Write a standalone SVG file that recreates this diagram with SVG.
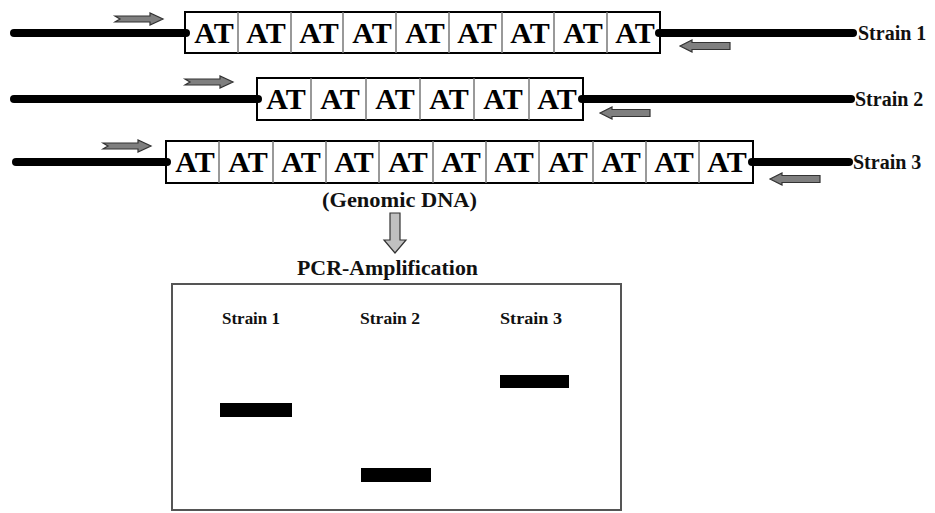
<svg xmlns="http://www.w3.org/2000/svg" xmlns:xlink="http://www.w3.org/1999/xlink" width="935" height="513" viewBox="0 0 935 513">
<style>
.dna{stroke:#000;stroke-width:8;stroke-linecap:round;fill:none}
.box{fill:#fff;stroke:#000;stroke-width:2}
.div{stroke:#777;stroke-width:1.5}
text{font-family:"Liberation Serif","Times New Roman","DejaVu Serif",serif;font-weight:700}
.at{font-size:30px;fill:#000;text-anchor:middle}
.lbl{font-size:20px;fill:#111}
.gl{font-size:16px;fill:#111}
.band{fill:#000}
.primer{fill:#7f7f7f;stroke:#333;stroke-width:1.2}
</style>
<defs>
<path id="fwd" class="primer" d="M0,-3 L35,-3 L35,-6 L48,0 L35,6 L35,3 L0,3 L5,0 Z"/>
<path id="rev" class="primer" d="M0,0 L12,-6 L12,-3.5 L50,-3.5 L50,3.5 L12,3.5 L12,6 Z"/>
</defs>
<rect width="935" height="513" fill="#fff"/>
<g id="connectors">
<line class="dna" x1="14" y1="33" x2="186" y2="33"/>
<line class="dna" x1="659" y1="33" x2="853" y2="33"/>
<line class="dna" x1="14" y1="99" x2="258" y2="99"/>
<line class="dna" x1="582" y1="99" x2="851" y2="99"/>
<line class="dna" x1="16" y1="162" x2="167" y2="162"/>
<line class="dna" x1="752" y1="162" x2="849" y2="162"/>
</g>
<g id="strain1">
<rect class="box" x="185" y="12" width="475" height="41"/>
<g class="div">
<line x1="238" y1="12" x2="238" y2="53"/><line x1="291" y1="12" x2="291" y2="53"/><line x1="343" y1="12" x2="343" y2="53"/><line x1="396" y1="12" x2="396" y2="53"/><line x1="449" y1="12" x2="449" y2="53"/><line x1="502" y1="12" x2="502" y2="53"/><line x1="554" y1="12" x2="554" y2="53"/><line x1="607" y1="12" x2="607" y2="53"/>
</g>
<g class="at">
<text x="214" y="43">AT</text><text x="266" y="43">AT</text><text x="319" y="43">AT</text><text x="372" y="43">AT</text><text x="425" y="43">AT</text><text x="477" y="43">AT</text><text x="530" y="43">AT</text><text x="583" y="43">AT</text><text x="635" y="43">AT</text>
</g>
<circle cx="186" cy="33" r="4"/><circle cx="659" cy="33" r="4"/>
<use xlink:href="#fwd" x="115" y="19"/>
<use xlink:href="#rev" x="680" y="46"/>
<text class="lbl" x="858" y="40">Strain 1</text>
</g>
<g id="strain2">
<rect class="box" x="257" y="78" width="326" height="42"/>
<g class="div">
<line x1="311" y1="78" x2="311" y2="120"/><line x1="366" y1="78" x2="366" y2="120"/><line x1="420" y1="78" x2="420" y2="120"/><line x1="474" y1="78" x2="474" y2="120"/><line x1="529" y1="78" x2="529" y2="120"/>
</g>
<g class="at">
<text x="286" y="109">AT</text><text x="340" y="109">AT</text><text x="395" y="109">AT</text><text x="449" y="109">AT</text><text x="503" y="109">AT</text><text x="557" y="109">AT</text>
</g>
<circle cx="258" cy="99" r="4"/><circle cx="582" cy="99" r="4"/>
<use xlink:href="#fwd" x="185" y="82"/>
<use xlink:href="#rev" x="600" y="113"/>
<text class="lbl" x="855" y="106">Strain 2</text>
</g>
<g id="strain3">
<rect class="box" x="166" y="141" width="587" height="42"/>
<g class="div">
<line x1="219" y1="141" x2="219" y2="183"/><line x1="273" y1="141" x2="273" y2="183"/><line x1="326" y1="141" x2="326" y2="183"/><line x1="379" y1="141" x2="379" y2="183"/><line x1="433" y1="141" x2="433" y2="183"/><line x1="486" y1="141" x2="486" y2="183"/><line x1="539" y1="141" x2="539" y2="183"/><line x1="593" y1="141" x2="593" y2="183"/><line x1="646" y1="141" x2="646" y2="183"/><line x1="699" y1="141" x2="699" y2="183"/>
</g>
<g class="at">
<text x="195" y="172">AT</text><text x="248" y="172">AT</text><text x="301" y="172">AT</text><text x="354" y="172">AT</text><text x="408" y="172">AT</text><text x="461" y="172">AT</text><text x="514" y="172">AT</text><text x="568" y="172">AT</text><text x="621" y="172">AT</text><text x="674" y="172">AT</text><text x="727" y="172">AT</text>
</g>
<circle cx="167" cy="162" r="4"/><circle cx="752" cy="162" r="4"/>
<use xlink:href="#fwd" x="103" y="146"/>
<use xlink:href="#rev" x="770" y="179"/>
<text class="lbl" x="853" y="169">Strain 3</text>
</g>
<g id="genomic">
<text class="lbl" x="322" y="207" textLength="155" lengthAdjust="spacingAndGlyphs">(Genomic DNA)</text>
</g>
<g id="down-arrow">
<path d="M390,213 L400,213 L400,240 L406,240 L395,253 L384,240 L390,240 Z" fill="#c0c0c0" stroke="#333" stroke-width="1.2"/>
</g>
<g id="pcr">
<text class="lbl" x="297" y="275" style="font-size:21px" textLength="181" lengthAdjust="spacingAndGlyphs">PCR-Amplification</text>
</g>
<g id="gel">
<rect x="172" y="284" width="449" height="226" fill="#fff" stroke="#555" stroke-width="2"/>
<text class="gl" x="222" y="324" textLength="58" lengthAdjust="spacingAndGlyphs">Strain 1</text>
<text class="gl" x="360" y="324" textLength="60" lengthAdjust="spacingAndGlyphs">Strain 2</text>
<text class="gl" x="500" y="324" textLength="62" lengthAdjust="spacingAndGlyphs">Strain 3</text>
<rect class="band" x="220" y="403" width="72" height="14"/>
<rect class="band" x="361" y="468" width="70" height="14"/>
<rect class="band" x="500" y="375" width="69" height="13"/>
</g>
</svg>
